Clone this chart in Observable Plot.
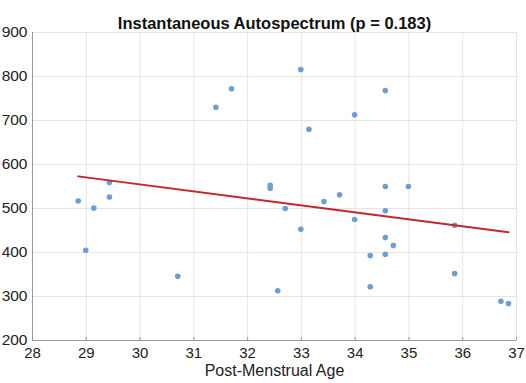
<!DOCTYPE html>
<html><head><meta charset="utf-8">
<script src="https://cdn.jsdelivr.net/npm/d3@7"></script>
<script src="https://cdn.jsdelivr.net/npm/@observablehq/plot@0.6"></script>
<style>
html,body{margin:0;padding:0;background:#fff;}
svg{font-family:"Liberation Sans",Arial,sans-serif;}
</style>
</head><body>
<div id="chart"></div>
<script>
const title = "Instantaneous Autospectrum (p = 0.183)";
const xLabel = "Post-Menstrual Age";
const pma = [28.85, 28.99, 29.14, 29.43, 29.43, 30.70, 31.41, 31.70, 32.99, 33.14, 33.99, 34.56,
  32.42, 32.42, 34.56, 34.99, 33.71, 33.42, 32.70, 32.99, 33.99, 34.56, 34.56, 34.71, 34.28, 34.56,
  35.85, 35.85, 34.28, 32.56, 36.71, 36.85];
const power = [517, 405, 501, 526, 559, 346, 730, 772, 816, 680, 713, 768,
  553, 546, 550, 550, 531, 516, 500, 453, 475, 495, 434, 416, 393, 396,
  462, 352, 322, 313, 289, 284];
const fitX = [28.85, 36.85];
const fitY = [573, 446];
const xTicks = [28, 29, 30, 31, 32, 33, 34, 35, 36, 37];
const yTicks = [200, 300, 400, 500, 600, 700, 800, 900];

const points = pma.map((x, i) => ({x, y: power[i]}));
const fit = fitX.map((x, i) => ({x, y: fitY[i]}));

const chart = Plot.plot({
  width: 526, height: 383,
  marginTop: 32, marginLeft: 32, marginRight: 10, marginBottom: 43,
  style: {fontFamily: "Liberation Sans, Arial, sans-serif", background: "#fff"},
  x: {domain: [28, 37]},
  y: {domain: [200, 900]},
  marks: [
    Plot.gridX(xTicks, {stroke: "#e4e4e4", strokeOpacity: 1}),
    Plot.gridY(yTicks, {stroke: "#e4e4e4", strokeOpacity: 1}),
    Plot.frame({stroke: "#e4e4e4"}),
    Plot.axisX(xTicks, {tickSize: -3, tickPadding: 10, fontSize: 15, fill: "#222", stroke: "#999", label: null}),
    Plot.axisY(yTicks, {tickSize: 0, tickPadding: 5, fontSize: 15.5, fill: "#222", label: null}),
    Plot.ruleX([28], {stroke: "#9a9a9a"}),
    Plot.ruleY([200], {stroke: "#9a9a9a"}),
    Plot.dot(points, {x: "x", y: "y", r: 2.8, fill: "#6b9fd0", stroke: null}),
    Plot.line(fit, {x: "x", y: "y", stroke: "#c4262b", strokeWidth: 2}),
    Plot.text([title], {frameAnchor: "top", dy: -15, fontSize: 16.5, fontWeight: "bold", fill: "#111"}),
    Plot.text([xLabel], {frameAnchor: "bottom", dy: 35, fontSize: 16, fill: "#222"})
  ]
});
document.getElementById("chart").appendChild(chart);
</script>
</body></html>
